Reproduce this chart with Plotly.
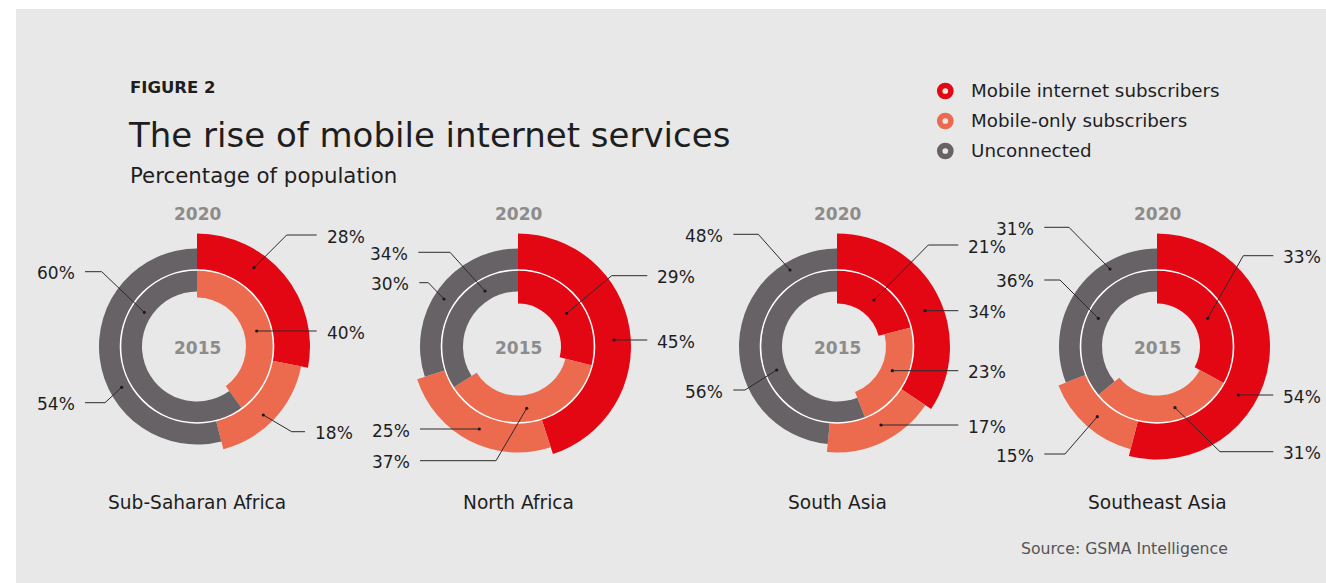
import plotly.graph_objects as go

W, H = 1326, 583

# ---- data -----------------------------------------------------------------
regions = ["Sub-Saharan Africa", "North Africa", "South Asia", "Southeast Asia"]
categories = ["Mobile internet subscribers", "Mobile-only subscribers", "Unconnected"]

internet_2020 = [28, 45, 34, 54]
mobile_only_2020 = [18, 25, 17, 15]
unconnected_2020 = [54, 30, 48, 31]

internet_2015 = [0, 29, 21, 33]
mobile_only_2015 = [40, 37, 23, 31]
unconnected_2015 = [60, 34, 56, 36]

series = {
    2020: [internet_2020, mobile_only_2020, unconnected_2020],
    2015: [internet_2015, mobile_only_2015, unconnected_2015],
}

# ---- styling ----------------------------------------------------------------
FONT = "DejaVu Sans"
COLORS = ["#e30613", "#ec6a4e", "#676265"]
PANEL = "#e8e8e8"
INK = "#1e1e1e"
OUTER_R = [113, 106, 98]      # outer edge of the 2020 ring, per category (px)
INNER_R = [43, 49, 55]        # inner edge of the 2015 ring, per category (px)
SPLIT_R = 76.5                # boundary between the two rings
CENTERS_X = [197, 518, 837, 1157]
CENTER_Y = 346.5
RMAX = 116


def px(x):
    return x / W


def py(y):
    return 1 - y / H


fig = go.Figure()

# one polar subplot per region; radial units are pixels
for i, region in enumerate(regions):
    key = "polar" if i == 0 else f"polar{i + 1}"
    cx = CENTERS_X[i]
    fig.update_layout(**{key: dict(
        domain=dict(x=[px(cx - RMAX), px(cx + RMAX)],
                    y=[py(CENTER_Y + RMAX), py(CENTER_Y - RMAX)]),
        bgcolor="rgba(0,0,0,0)",
        radialaxis=dict(range=[0, RMAX], visible=False),
        angularaxis=dict(direction="clockwise", rotation=90, visible=False),
        hole=0,
    )})

    # angular spans for each ring
    spans = {}
    for year in (2020, 2015):
        vals = [s[i] for s in series[year]]
        total = sum(vals)
        start = 0.0
        spans[year] = []
        for v in vals:
            w = v / total * 360
            spans[year].append((start + w / 2, w))
            start += w

    for c, cat in enumerate(categories):
        th = [spans[2020][c][0], spans[2015][c][0]]
        wd = [spans[2020][c][1], spans[2015][c][1]]
        fig.add_trace(go.Barpolar(
            theta=th, width=wd,
            base=[SPLIT_R, INNER_R[c]],
            r=[OUTER_R[c] - SPLIT_R, SPLIT_R - INNER_R[c]],
            marker=dict(color=COLORS[c], line=dict(width=0)),
            name=cat, showlegend=False,
            subplot=key,
        ))

shapes = []
annotations = []

# panel background
shapes.append(dict(type="rect", xref="paper", yref="paper", layer="below",
                   x0=px(16), x1=1, y0=0, y1=py(9),
                   fillcolor=PANEL, line=dict(width=0)))

# white separator between the 2015 and 2020 rings
for cx in CENTERS_X:
    shapes.append(dict(type="circle", xref="paper", yref="paper", layer="above",
                       x0=px(cx - SPLIT_R), x1=px(cx + SPLIT_R),
                       y0=py(CENTER_Y + SPLIT_R), y1=py(CENTER_Y - SPLIT_R),
                       line=dict(color="#ffffff", width=1.6)))

# leader lines: (region, year, category, side, line y, start x, elbow x, dot x, dot y)
leaders = [
    (0, 2020, 0, "R", 235.0, 316.7, 286.7, 254.0, 267.7),
    (0, 2015, 2, "L", 271.7, 85.0, 101.7, 144.3, 312.3),
    (0, 2015, 1, "R", 331.0, 316.7, 256.7, 256.7, 331.0),
    (0, 2020, 2, "L", 402.7, 85.0, 105.0, 121.7, 387.3),
    (0, 2020, 1, "R", 431.7, 305.0, 291.7, 263.3, 415.0),

    (1, 2015, 2, "L", 252.3, 418.3, 450.0, 485.0, 291.0),
    (1, 2020, 2, "L", 282.7, 419.3, 428.3, 444.0, 299.0),
    (1, 2015, 0, "R", 275.7, 647.3, 611.7, 566.7, 313.3),
    (1, 2020, 0, "R", 340.0, 647.3, 614.0, 614.0, 340.0),
    (1, 2020, 1, "L", 429.0, 420.0, 479.3, 479.3, 429.0),
    (1, 2015, 1, "L", 460.7, 420.0, 496.0, 526.7, 408.3),

    (2, 2020, 2, "L", 234.3, 733.3, 758.3, 790.0, 270.0),
    (2, 2015, 0, "R", 245.0, 958.3, 928.3, 874.0, 300.0),
    (2, 2020, 0, "R", 310.7, 958.3, 925.0, 925.0, 310.7),
    (2, 2015, 1, "R", 370.7, 958.3, 892.3, 892.3, 370.7),
    (2, 2020, 1, "R", 425.0, 958.3, 881.0, 881.0, 425.0),
    (2, 2015, 2, "L", 390.0, 733.3, 745.0, 776.7, 370.0),

    (3, 2020, 2, "L", 227.3, 1044.3, 1069.0, 1110.0, 269.0),
    (3, 2015, 2, "L", 280.0, 1044.3, 1060.0, 1098.3, 318.3),
    (3, 2015, 0, "R", 255.7, 1273.3, 1243.3, 1207.7, 318.3),
    (3, 2020, 0, "R", 395.0, 1273.3, 1238.3, 1238.3, 395.0),
    (3, 2020, 1, "L", 454.0, 1044.3, 1065.0, 1097.3, 416.7),
    (3, 2015, 1, "R", 451.7, 1273.3, 1220.0, 1175.0, 407.7),
]

for reg, year, cat, side, ly, sx, ex, dx, dy in leaders:
    path = (f"M {px(sx)} {py(ly)} L {px(ex)} {py(ly)} "
            f"L {px(dx)} {py(dy)}")
    shapes.append(dict(type="path", xref="paper", yref="paper", layer="above",
                       path=path, line=dict(color="#2b2b2b", width=1)))
    shapes.append(dict(type="circle", xref="paper", yref="paper", layer="above",
                       x0=px(dx - 1.6), x1=px(dx + 1.6),
                       y0=py(dy + 1.6), y1=py(dy - 1.6),
                       fillcolor="#1a1a1a", line=dict(width=0)))
    value = series[year][cat][reg]
    tx = sx + 8 if side == "R" else sx - 8
    annotations.append(dict(
        text=f"{value}%", xref="paper", yref="paper",
        x=px(tx), y=py(ly + 1.5),
        xanchor="left" if side == "R" else "right", yanchor="middle",
        showarrow=False, font=dict(family=FONT, size=17, color=INK)))

# year labels and region names
for i, region in enumerate(regions):
    cx = CENTERS_X[i]
    annotations.append(dict(text="<b>2020</b>", xref="paper", yref="paper",
                            x=px(cx), y=py(214), xanchor="center", yanchor="middle",
                            showarrow=False,
                            font=dict(family=FONT, size=17, color="#8c8c8c")))
    annotations.append(dict(text="<b>2015</b>", xref="paper", yref="paper",
                            x=px(cx), y=py(348), xanchor="center", yanchor="middle",
                            showarrow=False,
                            font=dict(family=FONT, size=17, color="#8c8c8c")))
    annotations.append(dict(text=region, xref="paper", yref="paper",
                            x=px(cx), y=py(502), xanchor="center", yanchor="middle",
                            showarrow=False,
                            font=dict(family=FONT, size=18.6, color=INK)))

# headings
annotations += [
    dict(text="<b>FIGURE 2</b>", x=px(127.5), y=py(87), xanchor="left", yanchor="middle",
         xref="paper", yref="paper", showarrow=False,
         font=dict(family=FONT, size=16.5, color=INK)),
    dict(text="The rise of mobile internet services", x=px(126), y=py(135),
         xanchor="left", yanchor="middle", xref="paper", yref="paper", showarrow=False,
         font=dict(family=FONT, size=34, color=INK)),
    dict(text="Percentage of population", x=px(127.5), y=py(175),
         xanchor="left", yanchor="middle", xref="paper", yref="paper", showarrow=False,
         font=dict(family=FONT, size=21.3, color=INK)),
    dict(text="Source: GSMA Intelligence", x=px(1019), y=py(548),
         xanchor="left", yanchor="middle", xref="paper", yref="paper", showarrow=False,
         font=dict(family=FONT, size=15.7, color="#555555")),
]

# legend with ring-shaped markers
legend_y = [91, 121, 151]
for c, cat in enumerate(categories):
    r = 5.6
    shapes.append(dict(type="circle", xref="paper", yref="paper", layer="above",
                       x0=px(945.3 - r), x1=px(945.3 + r),
                       y0=py(legend_y[c] + r), y1=py(legend_y[c] - r),
                       line=dict(color=COLORS[c], width=5.5)))
    annotations.append(dict(text=cat, x=px(969), y=py(legend_y[c]), xanchor="left",
                            yanchor="middle", xref="paper", yref="paper",
                            showarrow=False,
                            font=dict(family=FONT, size=18.3, color=INK)))

fig.update_layout(
    width=W, height=H,
    margin=dict(l=0, r=0, t=0, b=0),
    paper_bgcolor="#ffffff",
    showlegend=False,
    shapes=shapes,
    annotations=annotations,
)

fig.write_html("out.html")
